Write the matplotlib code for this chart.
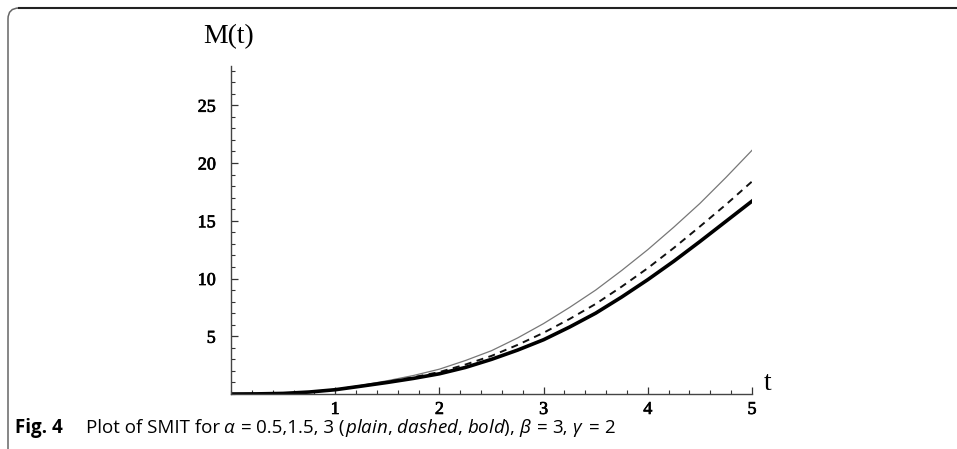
import matplotlib
matplotlib.use("Agg")
import matplotlib.pyplot as plt
import matplotlib.patheffects as pe
from matplotlib.patches import FancyBboxPatch
from matplotlib.ticker import MultipleLocator, FixedLocator

# Data
t = [0, 0.25, 0.5, 0.75, 1.0, 1.25, 1.5, 1.75, 2.0, 2.25, 2.5,
     2.75, 3.0, 3.25, 3.5, 3.75, 4.0, 4.25, 4.5, 4.75, 5.0]
m_plain = [0, 0.01, 0.05, 0.18, 0.40, 0.75, 1.15, 1.60, 2.15, 2.90, 3.75,
           4.85, 6.10, 7.50, 9.00, 10.70, 12.50, 14.45, 16.50, 18.75, 21.10]
m_dashed = [0, 0.01, 0.05, 0.17, 0.38, 0.70, 1.05, 1.45, 1.90, 2.55, 3.30,
            4.25, 5.30, 6.50, 7.80, 9.30, 10.90, 12.65, 14.50, 16.40, 18.40]
m_bold = [0, 0.01, 0.05, 0.17, 0.37, 0.68, 1.00, 1.35, 1.75, 2.30, 3.00,
          3.80, 4.70, 5.80, 7.00, 8.40, 9.90, 11.50, 13.20, 14.95, 16.70]
x_ticks = [1, 2, 3, 4, 5]
y_ticks = [5, 10, 15, 20, 25]
fig_label = "Fig. 4"
caption_parts = [
    ("Plot of SMIT for", 3),
    (r"$\alpha$", 5),
    ("=", 5),
    ("0.5,1.5, 3 (", 0),
    (r"$\mathit{plain}$, $\mathit{dashed}$, $\mathit{bold}$),", 4),
    (r"$\beta$", 5),
    ("=", 5),
    ("3,", 4),
    (r"$\gamma$", 5),
    ("=", 5),
    ("2", 0),
]

plt.rcParams['mathtext.fontset'] = 'custom'
plt.rcParams['mathtext.rm'] = 'Open Sans'
plt.rcParams['mathtext.it'] = 'Open Sans:italic'
plt.rcParams['mathtext.bf'] = 'Open Sans:bold'

W, H = 957, 449
fig = plt.figure(figsize=(W / 100, H / 100), dpi=100)

# outer rounded frame (partially cropped)
frame = FancyBboxPatch((8, -40), 1000, (H - 8) + 40,
                       boxstyle="round,pad=0,rounding_size=11",
                       transform=None, fill=False, edgecolor='#666666',
                       linewidth=1.1, figure=fig)
fig.patches.append(frame)
fig.add_artist(plt.Line2D([19 / W, 1], [(H - 8.3) / H, (H - 8.3) / H],
                          transform=fig.transFigure, color='#222222', lw=1.5))

x0, x1 = 231, 752
y0, y1 = 394, 66
ax = fig.add_axes([x0 / W, (H - y0) / H, (x1 - x0) / W, (y0 - y1) / H])

ax.plot(t, m_plain, color='#777777', lw=0.9)
ax.plot(t, m_dashed, color='#111111', lw=1.4, dashes=(3.6, 2.8))
ax.plot(t, m_bold, color='#000000', lw=2.6)

ax.set_xlim(0, 5)
ax.set_ylim(0, 28.4)
for s in ['top', 'right']:
    ax.spines[s].set_visible(False)
for s in ['left', 'bottom']:
    ax.spines[s].set_color('#444444')
    ax.spines[s].set_linewidth(1.0)

ax.xaxis.set_major_locator(FixedLocator(x_ticks))
ax.yaxis.set_major_locator(FixedLocator(y_ticks))
ax.xaxis.set_minor_locator(MultipleLocator(0.2))
ax.yaxis.set_minor_locator(MultipleLocator(1))
ax.tick_params(which='major', direction='in', length=5, width=0.9,
               color='#333333', labelsize=13)
ax.tick_params(which='minor', direction='in', length=3, width=0.8,
               color='#333333')
ax.tick_params(axis='x', which='major', pad=5)
ax.tick_params(axis='y', which='major', pad=11)
for lab in ax.get_xticklabels() + ax.get_yticklabels():
    lab.set_fontfamily('Liberation Serif')
    lab.set_path_effects([pe.withStroke(linewidth=0.5, foreground='black')])

fig.text(203 / W, (H - 37) / H, "M(t)", family='Liberation Serif',
         fontsize=20, ha='left', va='center')
fig.text(764 / W, (H - 384) / H, "t", family='Liberation Serif',
         fontsize=20, ha='left', va='center')

cy = (H - 433) / H
fig.text(15 / W, cy, fig_label, family='Open Sans',
         fontweight='bold', fontsize=13.5, ha='left', va='baseline')
renderer = fig.canvas.get_renderer()
xpos = 86
for txt, gap in caption_parts:
    tt = fig.text(xpos / W, cy, txt, family='Open Sans', fontsize=13.5,
                  ha='left', va='baseline')
    bb = tt.get_window_extent(renderer=renderer)
    xpos = bb.x1 + gap

fig.savefig("out.png", dpi=100)
